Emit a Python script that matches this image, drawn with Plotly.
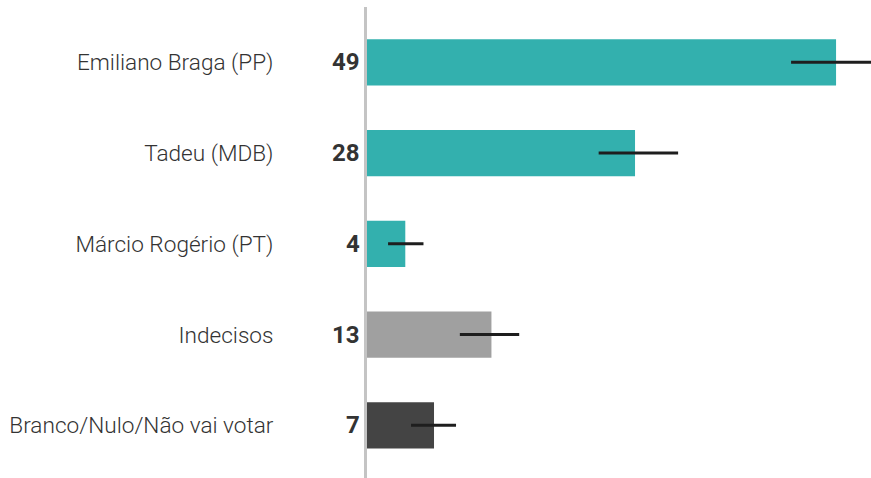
import plotly.graph_objects as go

categories = ["Emiliano Braga (PP)", "Tadeu (MDB)", "Márcio Rogério (PT)", "Indecisos", "Branco/Nulo/Não vai votar"]
values = [49, 28, 4, 13, 7]
err_plus = [4.7, 4.5, 1.9, 2.9, 2.3]
err_minus = [4.7, 3.8, 1.8, 3.3, 2.4]
colors = ["#33b0ae", "#33b0ae", "#33b0ae", "#a0a0a0", "#444444"]

fig = go.Figure()
fig.add_trace(go.Bar(
    y=categories, x=values, orientation="h",
    marker=dict(color=colors, line=dict(width=0)),
    error_x=dict(type="data", symmetric=False, array=err_plus, arrayminus=err_minus,
                 color="#1e1e1e", thickness=3, width=0),
    hoverinfo="skip",
))

for c, v in zip(categories, values):
    fig.add_annotation(x=0, y=c, xref="x", yref="y", text=str(v), showarrow=False,
                       xanchor="right", xshift=-5,
                       font=dict(family="Roboto", size=24, color="#333333", weight=700))

fig.update_layout(
    width=871, height=478,
    margin=dict(l=367, r=0, t=7, b=0),
    paper_bgcolor="white", plot_bgcolor="white",
    bargap=0.49, showlegend=False,
    xaxis=dict(range=[0, 52.65], visible=False, fixedrange=True),
    yaxis=dict(range=[4.58, -0.61], showline=True, linecolor="#c4c4c4", linewidth=3,
               showgrid=False, zeroline=False, ticks="", ticklabelstandoff=86,
               fixedrange=True,
               tickfont=dict(family="Roboto", size=22.6, color="#333333", weight=300)),
)

fig.write_html("out.html", config={"displayModeBar": False},
               post_script="document.body.style.margin='0';document.body.style.overflow='hidden';")
